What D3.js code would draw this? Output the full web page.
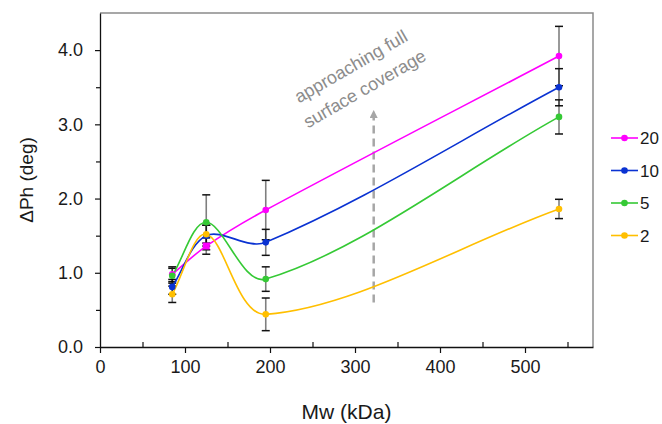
<!DOCTYPE html>
<html>
<head>
<meta charset="utf-8">
<script src="https://cdn.jsdelivr.net/npm/d3@7"></script>
<style>
  body { margin: 0; background: white; }
  svg { display: block; font-family: "Liberation Sans", Arial, sans-serif; }
</style>
</head>
<body>
<div id="chart"></div>
<script>
var mw = [85, 125, 195, 540];

var seriesNames = ["20", "10", "5", "2"];
var seriesColors = ["#ff00ff", "#0a32d2", "#35c935", "#ffbf00"];

var values20 = [0.98, 1.36, 1.845, 3.92];
var values10 = [0.81, 1.5, 1.41, 3.5];
var values5 = [0.96, 1.68, 0.915, 3.10];
var values2 = [0.71, 1.52, 0.44, 1.86];

var err20 = [0.1, 0.11, 0.4, 0.4];
var err10 = [0.1, 0.14, 0.175, 0.25];
var err5 = [0.1, 0.37, 0.165, 0.23];
var err2 = [0.11, 0.12, 0.22, 0.13];

// the 20 series uses a square marker at the second point in the original
var squareMarkers = [{ series: "20", index: 1 }];

var xTicks = [0, 100, 200, 300, 400, 500];
var xMinorTicks = [50, 150, 250, 350, 450, 550];
var yTicks = [0, 1, 2, 3, 4];
var yMinorTicks = [0.5, 1.5, 2.5, 3.5];

var annotationLines = ["approaching full", "surface coverage"];

var w = 662;
var h = 424;

var series = [
  { name: "20", values: values20, err: err20 },
  { name: "10", values: values10, err: err10 },
  { name: "5", values: values5, err: err5 },
  { name: "2", values: values2, err: err2 }
];

var color = d3.scaleOrdinal()
  .domain(seriesNames)
  .range(seriesColors);

var x = d3.scaleLinear()
  .domain([0, 580])
  .range([100, 593]);

var y = d3.scaleLinear()
  .domain([0, 4.5])
  .range([347, 13]);

var svg = d3.select("#chart")
  .append("svg")
  .attr("width", w)
  .attr("height", h);

// frame: top and right in grey
svg.append("path")
  .attr("d", "M" + x(0) + "," + y(4.5) + "H" + x(580) + "V" + y(0))
  .attr("fill", "none")
  .attr("stroke", "#8a8a8a")
  .attr("stroke-width", 1.5);

// axes
var xAxis = svg.append("g")
  .attr("transform", "translate(0," + y(0) + ")")
  .call(d3.axisBottom(x)
    .tickValues(xTicks)
    .tickSizeInner(6)
    .tickSizeOuter(0)
    .tickPadding(7)
    .tickFormat(d3.format("d")));

var xMinor = svg.append("g")
  .attr("transform", "translate(0," + y(0) + ")")
  .call(d3.axisBottom(x)
    .tickValues(xMinorTicks)
    .tickSizeInner(-5)
    .tickSizeOuter(0)
    .tickFormat(""));
xMinor.select(".domain").remove();

var yAxis = svg.append("g")
  .attr("transform", "translate(" + x(0) + ",0)")
  .call(d3.axisLeft(y)
    .tickValues(yTicks)
    .tickSizeInner(5)
    .tickSizeOuter(0)
    .tickPadding(12)
    .tickFormat(d3.format(".1f")));

var yMinor = svg.append("g")
  .attr("transform", "translate(" + x(0) + ",0)")
  .call(d3.axisLeft(y)
    .tickValues(yMinorTicks)
    .tickSizeInner(4)
    .tickSizeOuter(0)
    .tickFormat(""));
yMinor.select(".domain").remove();

svg.selectAll(".domain")
  .attr("stroke", "#111")
  .attr("stroke-width", 1.3);
svg.selectAll(".tick line")
  .attr("stroke", "#111")
  .attr("stroke-width", 1.2);
svg.selectAll(".tick text")
  .attr("fill", "#1a1a1a")
  .style("font-size", "18px")
  .style("font-family", "'Liberation Sans', Arial, sans-serif");

// axis titles
svg.append("text")
  .attr("x", (x(0) + x(580)) / 2)
  .attr("y", 419)
  .attr("text-anchor", "middle")
  .attr("fill", "#1a1a1a")
  .style("font-size", "21px")
  .text("Mw (kDa)");

svg.append("text")
  .attr("transform", "translate(33," + (y(0) + y(4.5)) / 2 + ") rotate(-90)")
  .attr("text-anchor", "middle")
  .attr("fill", "#1a1a1a")
  .style("font-size", "19px")
  .text("ΔPh (deg)");

// annotation arrow
var arrowX = 322;
svg.append("defs")
  .append("marker")
  .attr("id", "arrowHead")
  .attr("viewBox", "0 0 10 10")
  .attr("refX", 5)
  .attr("refY", 5)
  .attr("markerWidth", 3.2)
  .attr("markerHeight", 3.2)
  .attr("orient", "auto")
  .append("path")
  .attr("d", "M0,0L10,5L0,10Z")
  .attr("fill", "#a6a6a6");

svg.append("line")
  .attr("x1", x(arrowX))
  .attr("x2", x(arrowX))
  .attr("y1", y(0.6))
  .attr("y2", y(3.14))
  .attr("stroke", "#a6a6a6")
  .attr("stroke-width", 2.5)
  .attr("stroke-dasharray", "8,5")
  .attr("marker-end", "url(#arrowHead)");

svg.selectAll("text.note")
  .data(annotationLines)
  .enter()
  .append("text")
  .attr("class", "note")
  .attr("transform", function(d, i) {
    return "translate(" + (x(234) + i * 9) + "," + (y(3.28) + i * 25) + ") rotate(-30)";
  })
  .attr("fill", "#8c8c8c")
  .style("font-size", "18px")
  .text(function(d) {
    return d;
  });

// error bars
var errGroup = svg.append("g");
series.forEach(function(s) {
  var bars = errGroup.selectAll("g.err" + s.name)
    .data(mw.map(function(m, i) {
      return { x: m, v: s.values[i], e: s.err[i] };
    }))
    .enter()
    .append("g");

  bars.append("line")
    .attr("x1", function(d) { return x(d.x); })
    .attr("x2", function(d) { return x(d.x); })
    .attr("y1", function(d) { return y(d.v - d.e); })
    .attr("y2", function(d) { return y(d.v + d.e); })
    .attr("stroke", "#000")
    .attr("stroke-opacity", 0.5)
    .attr("stroke-width", 1.6);

  [-1, 1].forEach(function(sign) {
    bars.append("line")
      .attr("x1", function(d) { return x(d.x) - 4; })
      .attr("x2", function(d) { return x(d.x) + 4; })
      .attr("y1", function(d) { return y(d.v + sign * d.e); })
      .attr("y2", function(d) { return y(d.v + sign * d.e); })
      .attr("stroke", "#111")
      .attr("stroke-width", 1.5);
  });
});

// smoothed line, spreadsheet style: tangent from the neighbours,
// arm lengths split by the length of each adjoining segment
function smoothPath(pts) {
  var n = pts.length;
  var p = d3.path();
  var d = [];
  var outArm = [];
  var inArm = [];
  for (var i = 0; i < n - 1; i++) {
    d.push(Math.hypot(pts[i + 1][0] - pts[i][0], pts[i + 1][1] - pts[i][1]));
  }
  for (var i = 1; i < n - 1; i++) {
    var tx = pts[i + 1][0] - pts[i - 1][0];
    var ty = pts[i + 1][1] - pts[i - 1][1];
    var s = d[i - 1] + d[i];
    inArm[i] = [pts[i][0] - tx * d[i - 1] / s / 3, pts[i][1] - ty * d[i - 1] / s / 3];
    outArm[i] = [pts[i][0] + tx * d[i] / s / 3, pts[i][1] + ty * d[i] / s / 3];
  }
  outArm[0] = [pts[0][0] + (pts[1][0] - pts[0][0]) / 3, pts[0][1] + (pts[1][1] - pts[0][1]) / 3];
  inArm[n - 1] = [pts[n - 1][0] - (pts[n - 1][0] - pts[n - 2][0]) / 3, pts[n - 1][1] - (pts[n - 1][1] - pts[n - 2][1]) / 3];
  p.moveTo(pts[0][0], pts[0][1]);
  for (var i = 0; i < n - 1; i++) {
    p.bezierCurveTo(outArm[i][0], outArm[i][1], inArm[i + 1][0], inArm[i + 1][1], pts[i + 1][0], pts[i + 1][1]);
  }
  return p.toString();
}

svg.selectAll("path.series")
  .data(series)
  .enter()
  .append("path")
  .attr("class", "series")
  .attr("fill", "none")
  .attr("stroke", function(d) { return color(d.name); })
  .attr("stroke-width", 1.6)
  .attr("d", function(d) {
    return smoothPath(mw.map(function(m, i) {
      return [x(m), y(d.values[i])];
    }));
  });

// markers
series.forEach(function(s) {
  var pts = mw.map(function(m, i) {
    var sq = squareMarkers.some(function(q) {
      return q.series == s.name && q.index == i;
    });
    return { x: m, v: s.values[i], square: sq };
  });

  svg.selectAll("circle.m" + s.name)
    .data(pts.filter(function(d) { return !d.square; }))
    .enter()
    .append("circle")
    .attr("cx", function(d) { return x(d.x); })
    .attr("cy", function(d) { return y(d.v); })
    .attr("r", 3.3)
    .attr("fill", color(s.name));

  svg.selectAll("rect.m" + s.name)
    .data(pts.filter(function(d) { return d.square; }))
    .enter()
    .append("rect")
    .attr("x", function(d) { return x(d.x) - 3.5; })
    .attr("y", function(d) { return y(d.v) - 3.5; })
    .attr("width", 7)
    .attr("height", 7)
    .attr("fill", color(s.name));
});

// legend
var legend = svg.selectAll("g.legend")
  .data(seriesNames)
  .enter()
  .append("g")
  .attr("class", "legend")
  .attr("transform", function(d, i) {
    return "translate(611," + (138 + i * 32.5) + ")";
  });

legend.append("line")
  .attr("x1", 0)
  .attr("x2", 27)
  .attr("stroke", function(d) { return color(d); })
  .attr("stroke-width", 1.6);

legend.append("circle")
  .attr("cx", 13.5)
  .attr("r", 3.3)
  .attr("fill", function(d) { return color(d); });

legend.append("text")
  .attr("x", 29)
  .attr("y", 6)
  .attr("fill", "#1a1a1a")
  .style("font-size", "17px")
  .text(function(d) { return d; });
</script>
</body>
</html>
